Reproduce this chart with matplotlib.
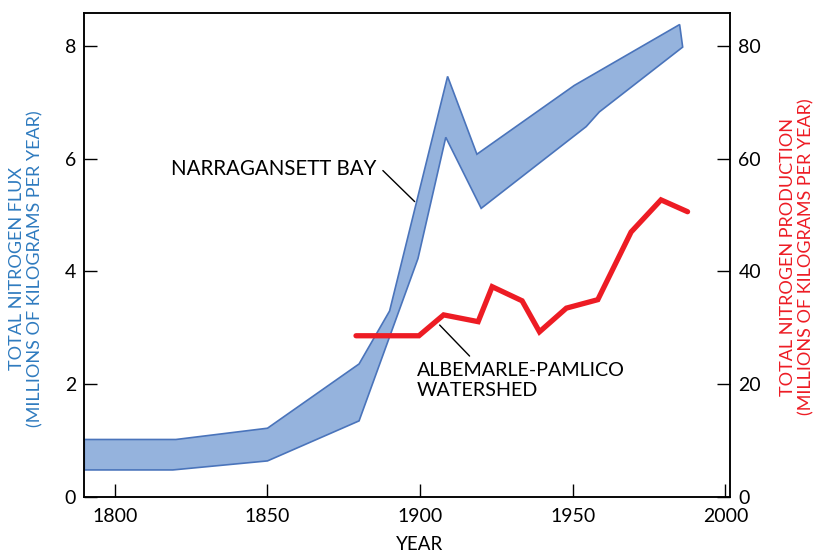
import matplotlib
matplotlib.use('Agg')
import matplotlib.pyplot as plt

# Narragansett Bay flux band (millions of kg per year)
upper_years = [1790, 1820, 1850, 1880, 1890, 1909, 1918.6, 1950.5, 1985]
upper_flux = [1.02, 1.02, 1.22, 2.36, 3.30, 7.46, 6.08, 7.30, 8.38]
lower_years = [1790, 1819, 1850, 1880, 1899.3, 1908.4, 1920, 1954.4, 1958.7, 1986]
lower_flux = [0.48, 0.48, 0.64, 1.35, 4.23, 6.38, 5.12, 6.57, 6.83, 7.98]

# Albemarle-Pamlico watershed production (millions of kg per year)
ap_years = [1879, 1899.6, 1907.7, 1919, 1923.6, 1933.4, 1939.1, 1947.9, 1958.2, 1969.1, 1978.9, 1987.6]
ap_prod = [28.6, 28.6, 32.3, 31.1, 37.3, 34.8, 29.3, 33.5, 35.0, 47.0, 52.7, 50.6]

x_ticks = [1800, 1850, 1900, 1950, 2000]
left_ticks = [0, 2, 4, 6, 8]
right_ticks = [0, 20, 40, 60, 80]

FONT = 'Lato'
BLUE_FILL = '#95b3dd'
BLUE_EDGE = '#4a74bb'
RED = '#ed1c24'
LABEL_BLUE = '#2f7bbf'

plt.rcParams['font.family'] = FONT

fig = plt.figure(figsize=(8.14, 5.54), dpi=100)
ax = fig.add_axes([84.3 / 814, 57 / 554, (730 - 84.3) / 814, (497 - 12.7) / 554])
ax2 = ax.twinx()

# band polygon: upper edge forward, lower edge back
poly_x = upper_years + lower_years[::-1]
poly_y = upper_flux + lower_flux[::-1]
ax.fill(poly_x, poly_y, facecolor=BLUE_FILL, edgecolor=BLUE_EDGE, linewidth=1.2, zorder=2)

ax2.plot(ap_years, ap_prod, color=RED, linewidth=3.8, solid_joinstyle='miter',
         solid_capstyle='round', zorder=3)

ax.set_xlim(1790, 2001.5)
ax.set_ylim(0, 8.59)
ax2.set_ylim(0, 85.9)

ax.set_xticks(x_ticks)
ax.set_yticks(left_ticks)
ax2.set_yticks(right_ticks)

for a in (ax, ax2):
    for sp in a.spines.values():
        sp.set_linewidth(1.1)
        sp.set_color('black')
ax.tick_params(axis='both', direction='in', length=9.5, width=1.0, labelsize=14, pad=6)
ax.tick_params(axis='x', pad=8)
ax2.tick_params(axis='y', direction='in', length=9.5, width=1.0, labelsize=14, pad=6)

fig.text(420 / 814, 1 - 545 / 554, 'YEAR', ha='center', va='center', fontsize=13.5)
fig.text(26 / 814, 1 - 269 / 554, 'TOTAL NITROGEN FLUX\n(MILLIONS OF KILOGRAMS PER YEAR)',
         rotation=90, ha='center', va='center', multialignment='center',
         fontsize=13, color=LABEL_BLUE, linespacing=1.15)
fig.text(797 / 814, 1 - 257 / 554, 'TOTAL NITROGEN PRODUCTION\n(MILLIONS OF KILOGRAMS PER YEAR)',
         rotation=90, ha='center', va='center', multialignment='center',
         fontsize=13, color=RED, linespacing=1.15)

# annotations with leader lines
ax.text(1885.8, 5.82, 'NARRAGANSETT BAY', ha='right', va='center', fontsize=14.8, zorder=4)
ax.annotate('', xy=(1898.2, 5.24), xytext=(1887.8, 5.79),
            arrowprops=dict(arrowstyle='-', lw=1.0, color='black', shrinkA=0, shrinkB=0))
ax.text(1898.8, 2.40, 'ALBEMARLE-PAMLICO\nWATERSHED', ha='left', va='top', fontsize=14.2,
        linespacing=1.25, zorder=4)
ax.annotate('', xy=(1906.4, 3.05), xytext=(1916.2, 2.5),
            arrowprops=dict(arrowstyle='-', lw=1.0, color='black', shrinkA=0, shrinkB=0))

fig.savefig('out.png', dpi=100, facecolor='white')
